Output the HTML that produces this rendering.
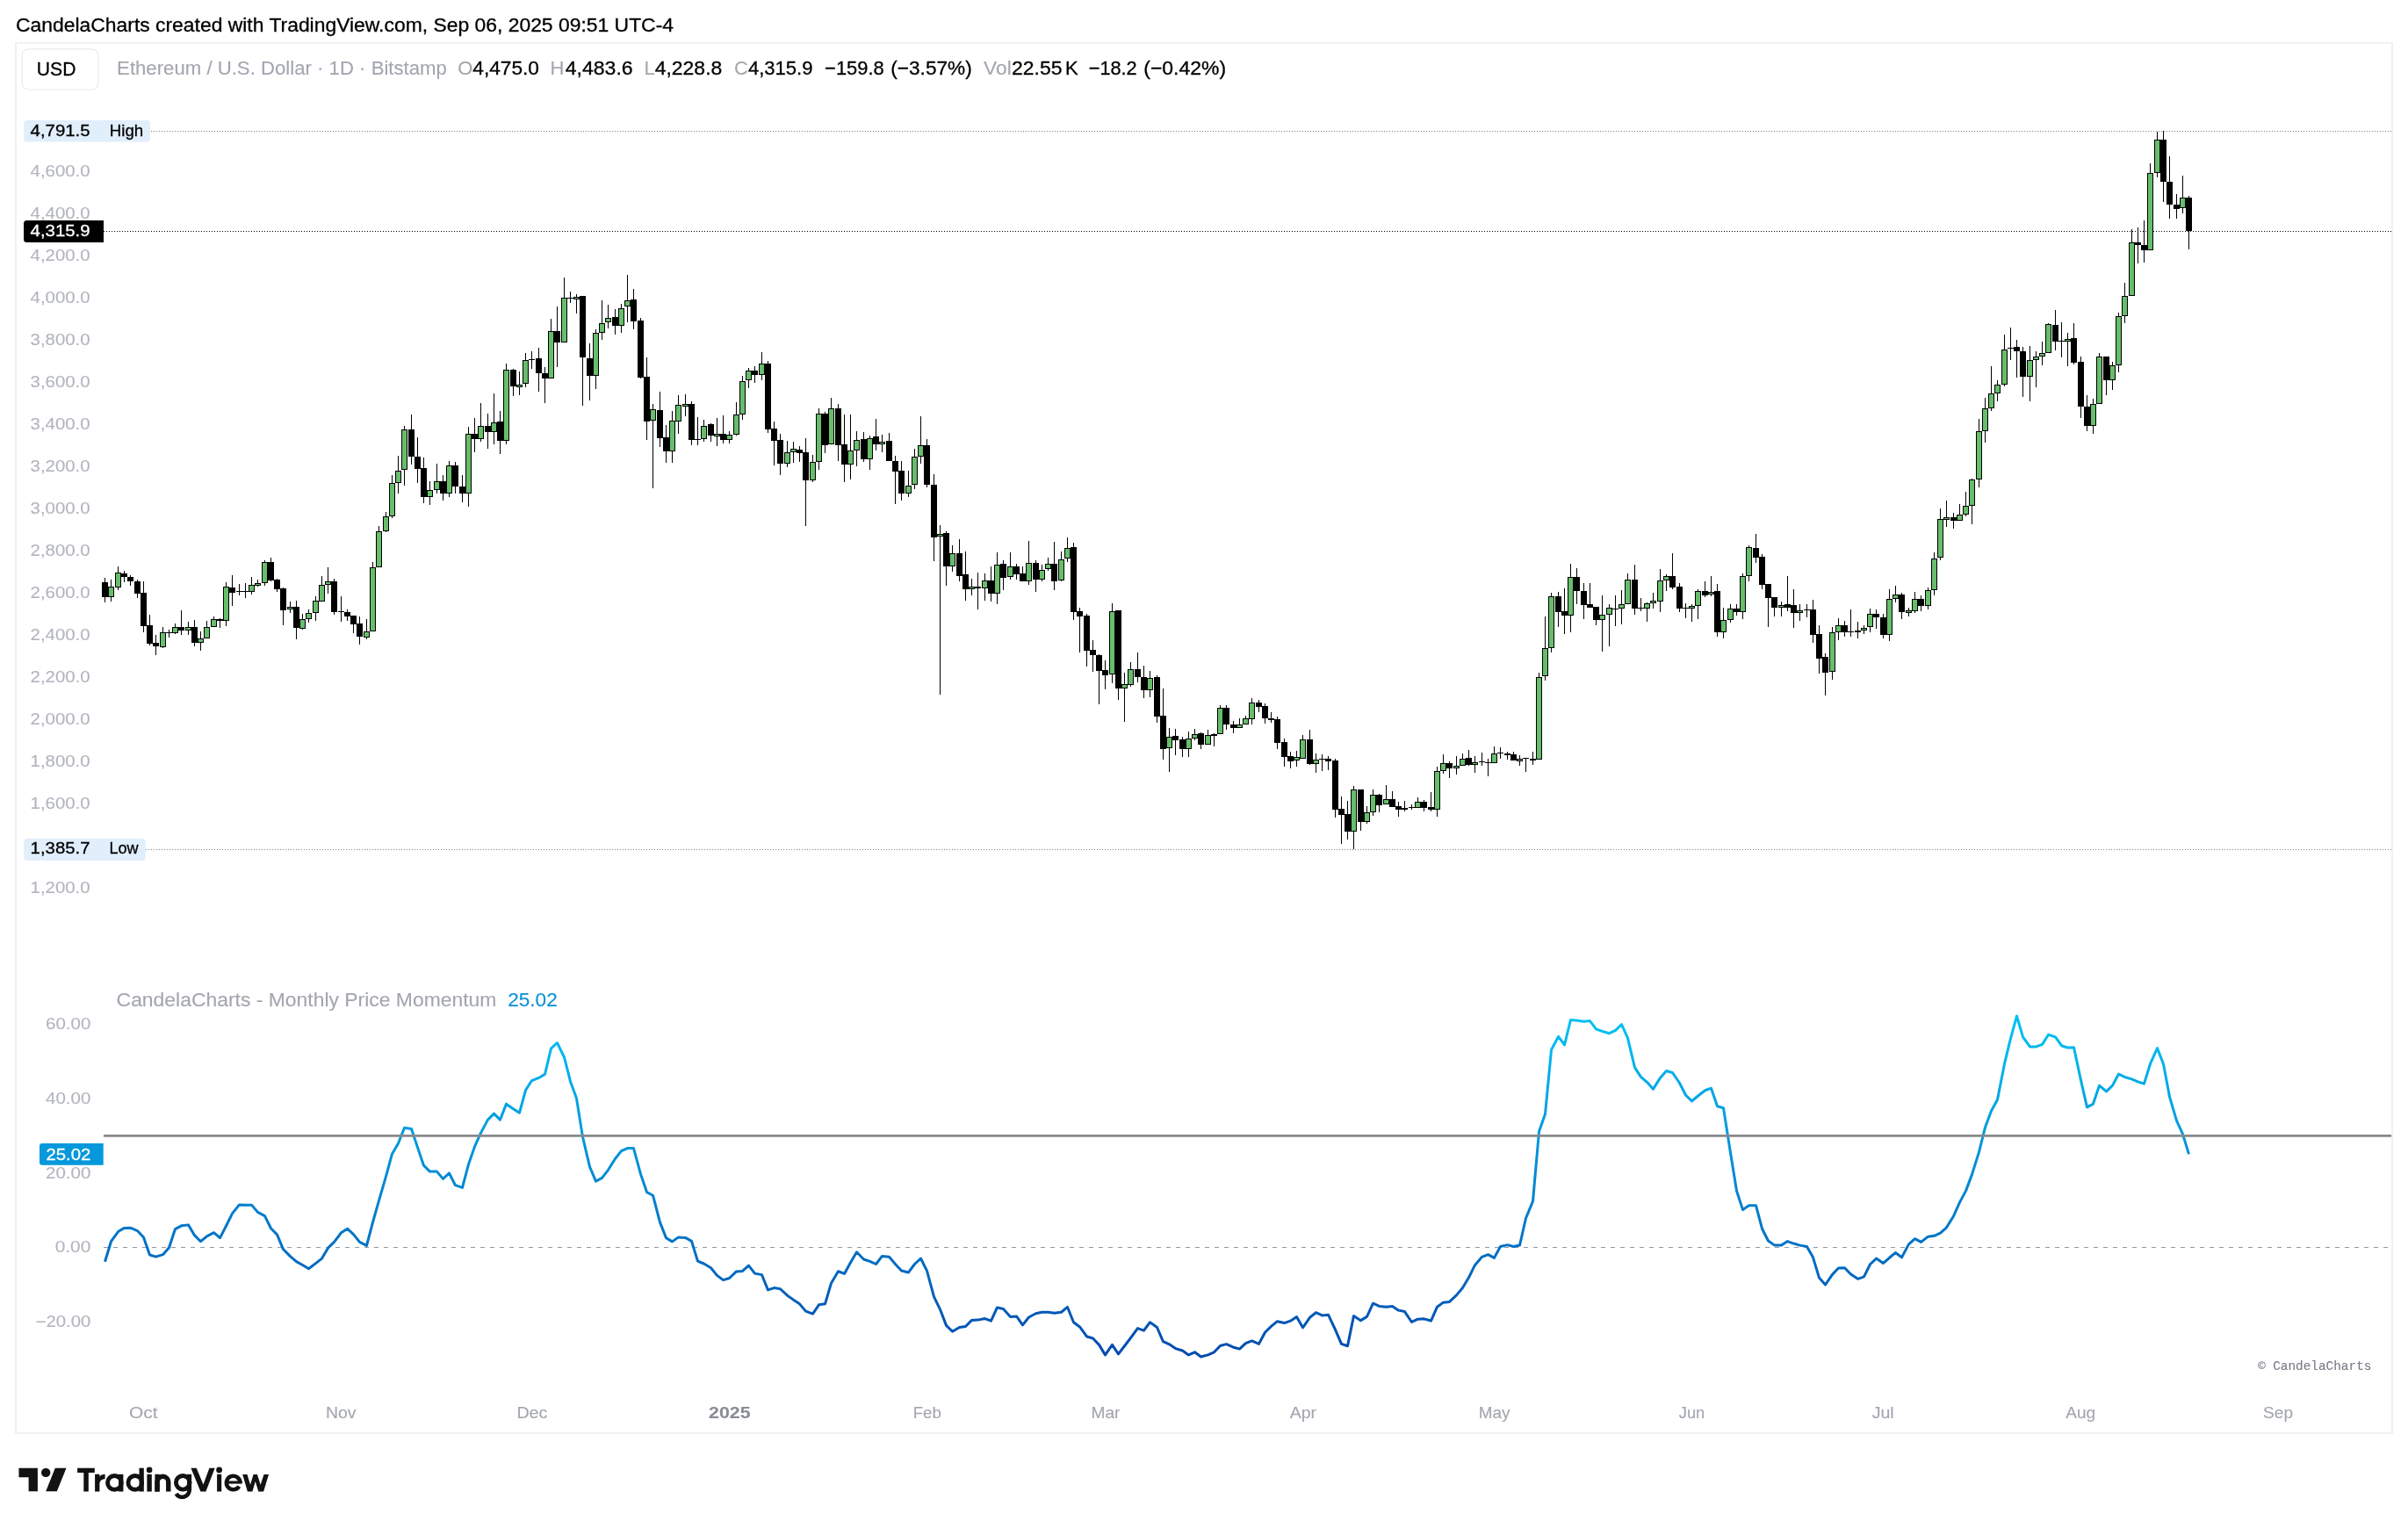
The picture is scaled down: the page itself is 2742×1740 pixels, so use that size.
<!DOCTYPE html>
<html><head><meta charset="utf-8"><title>ETH/USD chart</title><style>
html,body{margin:0;padding:0;background:#fff;}
body{width:2742px;height:1740px;overflow:hidden;position:relative;}
svg{position:absolute;left:0;top:0;display:block;will-change:transform;}
text{font-family:"Liberation Sans", sans-serif;}
</style></head><body>
<svg width="2742" height="1740" viewBox="0 0 2742 1740" xmlns="http://www.w3.org/2000/svg">
<text x="18.00" y="35.70" font-size="21.8" fill="#000" stroke="#000" stroke-width="0.3" textLength="749.00" lengthAdjust="spacingAndGlyphs">CandelaCharts created with TradingView.com, Sep 06, 2025 09:51 UTC-4</text>
<rect x="18" y="49" width="2706" height="1583" fill="none" stroke="#f1f1f2" stroke-width="2"/>
<rect x="25.1" y="55.9" width="86.9" height="46.1" rx="7.5" fill="#fff" stroke="#ebebed" stroke-width="1.2"/>
<text x="41.80" y="85.90" font-size="21.8" fill="#000" stroke="#000" stroke-width="0.3" textLength="44.60" lengthAdjust="spacingAndGlyphs">USD</text>
<text x="133.10" y="85.20" font-size="22.0" fill="#a3a6af" stroke="#a3a6af" stroke-width="0.12" textLength="375.80" lengthAdjust="spacingAndGlyphs">Ethereum / U.S. Dollar · 1D · Bitstamp</text>
<text x="521.30" y="85.20" font-size="22.0" fill="#a3a6af" stroke="#a3a6af" stroke-width="0.12">O</text>
<text x="538.30" y="85.20" font-size="22.0" fill="#000" stroke="#000" stroke-width="0.3" textLength="75.60" lengthAdjust="spacingAndGlyphs">4,475.0</text>
<text x="626.50" y="85.20" font-size="22.0" fill="#a3a6af" stroke="#a3a6af" stroke-width="0.12">H</text>
<text x="643.70" y="85.20" font-size="22.0" fill="#000" stroke="#000" stroke-width="0.3" textLength="77.00" lengthAdjust="spacingAndGlyphs">4,483.6</text>
<text x="733.50" y="85.20" font-size="22.0" fill="#a3a6af" stroke="#a3a6af" stroke-width="0.12">L</text>
<text x="745.70" y="85.20" font-size="22.0" fill="#000" stroke="#000" stroke-width="0.3" textLength="76.60" lengthAdjust="spacingAndGlyphs">4,228.8</text>
<text x="835.90" y="85.20" font-size="22.0" fill="#a3a6af" stroke="#a3a6af" stroke-width="0.12">C</text>
<text x="851.90" y="85.20" font-size="22.0" fill="#000" stroke="#000" stroke-width="0.3" textLength="73.60" lengthAdjust="spacingAndGlyphs">4,315.9</text>
<text x="939.10" y="85.20" font-size="22.0" fill="#000" stroke="#000" stroke-width="0.3" textLength="67.60" lengthAdjust="spacingAndGlyphs">−159.8</text>
<text x="1014.30" y="85.20" font-size="22.0" fill="#000" stroke="#000" stroke-width="0.3" textLength="92.40" lengthAdjust="spacingAndGlyphs">(−3.57%)</text>
<text x="1120.10" y="85.20" font-size="22.0" fill="#a3a6af" stroke="#a3a6af" stroke-width="0.12" textLength="31.60" lengthAdjust="spacingAndGlyphs">Vol</text>
<text x="1152.10" y="85.20" font-size="22.0" fill="#000" stroke="#000" stroke-width="0.3" textLength="57.40" lengthAdjust="spacingAndGlyphs">22.55</text>
<text x="1213.10" y="85.20" font-size="22.0" fill="#000" stroke="#000" stroke-width="0.3">K</text>
<text x="1239.70" y="85.20" font-size="22.0" fill="#000" stroke="#000" stroke-width="0.3" textLength="55.00" lengthAdjust="spacingAndGlyphs">−18.2</text>
<text x="1302.30" y="85.20" font-size="22.0" fill="#000" stroke="#000" stroke-width="0.3" textLength="93.80" lengthAdjust="spacingAndGlyphs">(−0.42%)</text>
<text x="34.60" y="200.57" font-size="18" fill="#b2b5be" stroke="#b2b5be" stroke-width="0.12" textLength="68.00" lengthAdjust="spacingAndGlyphs">4,600.0</text>
<text x="34.60" y="248.57" font-size="18" fill="#b2b5be" stroke="#b2b5be" stroke-width="0.12" textLength="68.00" lengthAdjust="spacingAndGlyphs">4,400.0</text>
<text x="34.60" y="296.58" font-size="18" fill="#b2b5be" stroke="#b2b5be" stroke-width="0.12" textLength="68.00" lengthAdjust="spacingAndGlyphs">4,200.0</text>
<text x="34.60" y="344.58" font-size="18" fill="#b2b5be" stroke="#b2b5be" stroke-width="0.12" textLength="68.00" lengthAdjust="spacingAndGlyphs">4,000.0</text>
<text x="34.60" y="392.59" font-size="18" fill="#b2b5be" stroke="#b2b5be" stroke-width="0.12" textLength="68.00" lengthAdjust="spacingAndGlyphs">3,800.0</text>
<text x="34.60" y="440.60" font-size="18" fill="#b2b5be" stroke="#b2b5be" stroke-width="0.12" textLength="68.00" lengthAdjust="spacingAndGlyphs">3,600.0</text>
<text x="34.60" y="488.60" font-size="18" fill="#b2b5be" stroke="#b2b5be" stroke-width="0.12" textLength="68.00" lengthAdjust="spacingAndGlyphs">3,400.0</text>
<text x="34.60" y="536.61" font-size="18" fill="#b2b5be" stroke="#b2b5be" stroke-width="0.12" textLength="68.00" lengthAdjust="spacingAndGlyphs">3,200.0</text>
<text x="34.60" y="584.61" font-size="18" fill="#b2b5be" stroke="#b2b5be" stroke-width="0.12" textLength="68.00" lengthAdjust="spacingAndGlyphs">3,000.0</text>
<text x="34.60" y="632.62" font-size="18" fill="#b2b5be" stroke="#b2b5be" stroke-width="0.12" textLength="68.00" lengthAdjust="spacingAndGlyphs">2,800.0</text>
<text x="34.60" y="680.63" font-size="18" fill="#b2b5be" stroke="#b2b5be" stroke-width="0.12" textLength="68.00" lengthAdjust="spacingAndGlyphs">2,600.0</text>
<text x="34.60" y="728.63" font-size="18" fill="#b2b5be" stroke="#b2b5be" stroke-width="0.12" textLength="68.00" lengthAdjust="spacingAndGlyphs">2,400.0</text>
<text x="34.60" y="776.64" font-size="18" fill="#b2b5be" stroke="#b2b5be" stroke-width="0.12" textLength="68.00" lengthAdjust="spacingAndGlyphs">2,200.0</text>
<text x="34.60" y="824.64" font-size="18" fill="#b2b5be" stroke="#b2b5be" stroke-width="0.12" textLength="68.00" lengthAdjust="spacingAndGlyphs">2,000.0</text>
<text x="34.60" y="872.65" font-size="18" fill="#b2b5be" stroke="#b2b5be" stroke-width="0.12" textLength="68.00" lengthAdjust="spacingAndGlyphs">1,800.0</text>
<text x="34.60" y="920.66" font-size="18" fill="#b2b5be" stroke="#b2b5be" stroke-width="0.12" textLength="68.00" lengthAdjust="spacingAndGlyphs">1,600.0</text>
<text x="34.60" y="1016.67" font-size="18" fill="#b2b5be" stroke="#b2b5be" stroke-width="0.12" textLength="68.00" lengthAdjust="spacingAndGlyphs">1,200.0</text>
<line x1="172" y1="149.5" x2="2723" y2="149.5" stroke="#808080" stroke-width="1" stroke-dasharray="1 2"/>
<line x1="166" y1="967.5" x2="2723" y2="967.5" stroke="#808080" stroke-width="1" stroke-dasharray="1 2"/>
<line x1="118" y1="263.5" x2="2723" y2="263.5" stroke="#000" stroke-width="1" stroke-dasharray="1 2"/>
<path d="M119.5 658V686M126.5 660V685M134.5 645V672M141.5 650V663M148.5 655V667M156.5 660V681M163.5 662V720M170.5 700V735M177.5 723V746M185.5 714V738M192.5 717V726M199.5 710V722M206.5 695V723M214.5 708V723M221.5 706V736M228.5 719V741M235.5 707V727M243.5 702V714M250.5 704V715M257.5 663V713M264.5 655V690M272.5 665V678M279.5 664V681M286.5 657V677M293.5 660V668M301.5 638V667M308.5 635V662M315.5 659V674M322.5 669V712M330.5 685V698M337.5 684V728M344.5 699V717M351.5 694V709M359.5 679V707M366.5 656V685M373.5 646V676M380.5 659V700M388.5 679V708M395.5 694V707M402.5 701V721M409.5 702V734M417.5 705V728M424.5 640V719M431.5 599V646M439.5 583V606M446.5 541V590M453.5 519V562M460.5 485V553M468.5 472V529M475.5 498V550M482.5 521V573M489.5 548V575M497.5 528V562M504.5 541V570M511.5 525V566M518.5 526V562M526.5 541V572M533.5 486V577M540.5 476V515M547.5 459V503M555.5 471V511M562.5 448V506M569.5 468V517M576.5 414V506M584.5 420V451M591.5 423V450M598.5 402V441M605.5 400V420M613.5 396V446M620.5 418V459M627.5 363V431M634.5 349V418M642.5 316V390M649.5 332V345M656.5 335V357M663.5 337V462M671.5 391V456M678.5 375V443M685.5 342V387M692.5 347V374M700.5 352V381M707.5 346V379M714.5 313V367M721.5 329V375M729.5 362V431M736.5 407V501M743.5 460V556M751.5 446V509M758.5 484V527M765.5 468V527M772.5 450V494M780.5 449V474M787.5 457V507M794.5 475V507M801.5 478V503M809.5 482V503M816.5 476V508M823.5 473V505M830.5 491V505M838.5 458V496M845.5 428V478M852.5 419V442M859.5 417V436M867.5 401V433M874.5 411V493M881.5 480V530M888.5 494V541M896.5 502V532M903.5 503V527M910.5 508V526M917.5 499V599M925.5 518V549M932.5 465V535M939.5 469V516M946.5 453V506M954.5 460V525M961.5 472V549M968.5 472V546M975.5 491V531M983.5 492V526M990.5 496V535M997.5 477V513M1004.5 495V515M1012.5 493V525M1019.5 519V574M1026.5 525V570M1034.5 536V566M1041.5 511V557M1048.5 474V528M1055.5 500V555M1063.5 540V639M1070.5 598V791M1077.5 605V667M1084.5 621V651M1092.5 614V662M1099.5 628V684M1106.5 659V678M1113.5 652V694M1121.5 653V684M1128.5 645V685M1135.5 629V688M1142.5 638V672M1150.5 629V660M1157.5 642V660M1164.5 645V662M1171.5 616V666M1179.5 638V674M1186.5 643V662M1193.5 635V650M1200.5 617V672M1208.5 628V662M1215.5 612V640M1222.5 618V706M1229.5 692V743M1237.5 699V759M1244.5 729V765M1251.5 745V802M1258.5 752V785M1266.5 687V778M1273.5 695V797M1280.5 766V822M1287.5 754V782M1295.5 743V777M1302.5 758V795M1309.5 764V794M1317.5 769V823M1324.5 784V865M1331.5 829V879M1338.5 830V860M1346.5 839V862M1353.5 833V862M1360.5 830V843M1367.5 834V853M1375.5 831V848M1382.5 835V850M1389.5 803V836M1396.5 803V831M1404.5 821V835M1411.5 818V829M1418.5 815V825M1425.5 795V825M1433.5 797V811M1440.5 801V824M1447.5 811V823M1454.5 816V853M1462.5 841V873M1469.5 856V875M1476.5 855V873M1483.5 837V864M1491.5 831V871M1498.5 858V880M1505.5 859V878M1512.5 861V877M1520.5 864V931M1527.5 907V961M1534.5 912V956M1541.5 895V967M1549.5 899V946M1556.5 918V938M1563.5 899V929M1570.5 904V925M1578.5 894V916M1585.5 901V919M1592.5 913V930M1599.5 912V924M1607.5 916V922M1614.5 908V920M1621.5 911V924M1629.5 902V924M1636.5 873V930M1643.5 859V881M1650.5 867V886M1658.5 861V882M1665.5 858V872M1672.5 854V872M1679.5 861V880M1687.5 857V872M1694.5 864V884M1701.5 850V869M1708.5 851V864M1716.5 856V865M1723.5 856V866M1730.5 860V872M1737.5 863V879M1745.5 856V871M1752.5 766V865M1759.5 702V775M1766.5 675V743M1774.5 674V714M1781.5 670V722M1788.5 642V720M1795.5 647V688M1803.5 664V705M1810.5 664V692M1817.5 691V712M1824.5 678V742M1832.5 688V736M1839.5 678V713M1846.5 672V711M1853.5 653V688M1861.5 643V700M1868.5 681V696M1875.5 686V708M1882.5 675V693M1890.5 648V697M1897.5 654V673M1904.5 630V671M1912.5 664V697M1919.5 687V704M1926.5 688V708M1933.5 671V705M1941.5 662V680M1948.5 656V679M1955.5 665V725M1962.5 692V727M1970.5 688V709M1977.5 688V701M1984.5 653V705M1991.5 621V662M1999.5 608V641M2006.5 631V671M2013.5 665V714M2020.5 680V702M2028.5 685V702M2035.5 656V696M2042.5 671V715M2049.5 688V707M2057.5 688V703M2064.5 683V732M2071.5 712V767M2078.5 744V792M2086.5 714V774M2093.5 704V729M2100.5 707V725M2107.5 694V725M2115.5 708V727M2122.5 712V722M2129.5 693V720M2136.5 694V716M2144.5 699V727M2151.5 671V730M2158.5 667V686M2165.5 675V705M2173.5 692V702M2180.5 674V698M2187.5 678V696M2195.5 669V694M2202.5 629V678M2209.5 579V638M2216.5 570V600M2224.5 584V602M2231.5 574V593M2238.5 560V588M2245.5 545V597M2253.5 477V555M2260.5 453V504M2267.5 417V468M2274.5 433V457M2282.5 381V440M2289.5 373V410M2296.5 387V430M2303.5 395V452M2311.5 394V457M2318.5 400V441M2325.5 389V416M2332.5 368V402M2340.5 353V399M2347.5 367V407M2354.5 379V417M2361.5 368V415M2369.5 406V476M2376.5 450V491M2383.5 454V494M2390.5 402V460M2398.5 406V450M2405.5 412V444M2412.5 356V424M2419.5 322V368M2427.5 261V337M2434.5 259V300M2441.5 251V299M2448.5 186V285M2456.5 150V202M2463.5 149V230M2470.5 178V249M2478.5 221V249M2485.5 200V243M2492.5 223V284" stroke="#000" stroke-width="1" fill="none"/>
<path d="M116 663h7V680h-7ZM123 668h7V680h-7ZM131 652h7V669h-7ZM138 653h7V657h-7ZM145 657h7V662h-7ZM153 662h7V676h-7ZM160 675h7V713h-7ZM167 712h7V733h-7ZM174 732h7V736h-7ZM182 720h7V737h-7ZM189 720h7V721h-7ZM196 714h7V721h-7ZM203 714h7V718h-7ZM211 714h7V718h-7ZM218 714h7V732h-7ZM225 727h7V732h-7ZM232 714h7V727h-7ZM240 705h7V714h-7ZM247 705h7V707h-7ZM254 668h7V707h-7ZM261 669h7V675h-7ZM269 673h7V674h-7ZM276 673h7V674h-7ZM283 666h7V674h-7ZM290 664h7V667h-7ZM298 640h7V664h-7ZM305 640h7V661h-7ZM312 660h7V671h-7ZM319 670h7V695h-7ZM327 691h7V694h-7ZM334 691h7V715h-7ZM341 705h7V716h-7ZM348 698h7V705h-7ZM356 684h7V698h-7ZM363 666h7V685h-7ZM370 662h7V666h-7ZM377 662h7V697h-7ZM385 696h7V697h-7ZM392 697h7V702h-7ZM399 701h7V711h-7ZM406 710h7V725h-7ZM414 719h7V726h-7ZM421 646h7V719h-7ZM428 605h7V646h-7ZM436 588h7V605h-7ZM443 550h7V588h-7ZM450 536h7V550h-7ZM457 489h7V535h-7ZM465 489h7V520h-7ZM472 520h7V534h-7ZM479 533h7V566h-7ZM486 558h7V566h-7ZM494 548h7V558h-7ZM501 548h7V562h-7ZM508 530h7V562h-7ZM515 530h7V554h-7ZM523 554h7V562h-7ZM530 494h7V562h-7ZM537 494h7V500h-7ZM544 485h7V500h-7ZM552 485h7V492h-7ZM559 481h7V492h-7ZM566 480h7V502h-7ZM573 421h7V502h-7ZM581 421h7V440h-7ZM588 438h7V441h-7ZM595 410h7V437h-7ZM602 409h7V410h-7ZM610 408h7V425h-7ZM617 425h7V431h-7ZM624 377h7V431h-7ZM631 377h7V390h-7ZM639 339h7V390h-7ZM646 339h7V340h-7ZM653 338h7V341h-7ZM660 337h7V407h-7ZM668 408h7V428h-7ZM675 379h7V428h-7ZM682 368h7V379h-7ZM689 362h7V367h-7ZM697 361h7V371h-7ZM704 351h7V371h-7ZM711 342h7V349h-7ZM718 341h7V366h-7ZM726 365h7V430h-7ZM733 429h7V480h-7ZM740 466h7V479h-7ZM748 467h7V499h-7ZM755 498h7V514h-7ZM762 479h7V514h-7ZM769 461h7V480h-7ZM777 460h7V463h-7ZM784 460h7V501h-7ZM791 500h7V501h-7ZM798 485h7V500h-7ZM806 483h7V496h-7ZM813 494h7V497h-7ZM820 494h7V501h-7ZM827 495h7V501h-7ZM835 472h7V495h-7ZM842 434h7V472h-7ZM849 422h7V433h-7ZM856 422h7V427h-7ZM864 414h7V427h-7ZM871 414h7V489h-7ZM878 488h7V502h-7ZM885 501h7V528h-7ZM893 515h7V528h-7ZM900 511h7V515h-7ZM907 512h7V516h-7ZM914 515h7V547h-7ZM922 526h7V547h-7ZM929 471h7V526h-7ZM936 471h7V507h-7ZM943 465h7V506h-7ZM951 465h7V507h-7ZM958 506h7V529h-7ZM965 513h7V529h-7ZM972 501h7V513h-7ZM980 500h7V523h-7ZM987 499h7V523h-7ZM994 497h7V506h-7ZM1001 503h7V506h-7ZM1009 502h7V525h-7ZM1016 525h7V537h-7ZM1023 536h7V562h-7ZM1031 553h7V562h-7ZM1038 520h7V552h-7ZM1045 507h7V520h-7ZM1052 507h7V552h-7ZM1060 552h7V612h-7ZM1067 608h7V611h-7ZM1074 607h7V645h-7ZM1081 630h7V645h-7ZM1089 630h7V656h-7ZM1096 654h7V671h-7ZM1103 668h7V671h-7ZM1110 668h7V670h-7ZM1118 661h7V670h-7ZM1125 661h7V676h-7ZM1132 643h7V676h-7ZM1139 642h7V658h-7ZM1147 645h7V657h-7ZM1154 645h7V654h-7ZM1161 653h7V662h-7ZM1168 641h7V662h-7ZM1176 641h7V660h-7ZM1183 649h7V660h-7ZM1190 642h7V648h-7ZM1197 642h7V662h-7ZM1205 637h7V661h-7ZM1212 624h7V636h-7ZM1219 623h7V697h-7ZM1226 696h7V702h-7ZM1234 701h7V741h-7ZM1241 740h7V746h-7ZM1248 746h7V764h-7ZM1255 763h7V769h-7ZM1263 696h7V768h-7ZM1270 695h7V784h-7ZM1277 779h7V784h-7ZM1284 762h7V780h-7ZM1292 762h7V771h-7ZM1299 771h7V786h-7ZM1306 772h7V786h-7ZM1314 771h7V816h-7ZM1321 815h7V853h-7ZM1328 839h7V852h-7ZM1335 838h7V843h-7ZM1343 842h7V853h-7ZM1350 841h7V853h-7ZM1357 836h7V841h-7ZM1364 835h7V848h-7ZM1372 837h7V848h-7ZM1379 836h7V838h-7ZM1386 806h7V836h-7ZM1393 806h7V825h-7ZM1401 825h7V829h-7ZM1408 825h7V829h-7ZM1415 818h7V825h-7ZM1422 800h7V819h-7ZM1430 800h7V805h-7ZM1437 804h7V818h-7ZM1444 818h7V820h-7ZM1451 819h7V846h-7ZM1459 845h7V862h-7ZM1466 861h7V867h-7ZM1473 862h7V866h-7ZM1480 842h7V864h-7ZM1488 842h7V870h-7ZM1495 865h7V870h-7ZM1502 864h7V865h-7ZM1509 864h7V867h-7ZM1517 866h7V922h-7ZM1524 921h7V928h-7ZM1531 927h7V947h-7ZM1538 899h7V947h-7ZM1546 899h7V936h-7ZM1553 925h7V936h-7ZM1560 905h7V925h-7ZM1567 905h7V917h-7ZM1575 910h7V916h-7ZM1582 910h7V919h-7ZM1589 918h7V922h-7ZM1596 920h7V922h-7ZM1604 919h7V920h-7ZM1611 913h7V920h-7ZM1618 913h7V920h-7ZM1626 919h7V922h-7ZM1633 878h7V922h-7ZM1640 869h7V878h-7ZM1647 869h7V875h-7ZM1655 872h7V875h-7ZM1662 864h7V872h-7ZM1669 863h7V871h-7ZM1676 868h7V871h-7ZM1684 867h7V868h-7ZM1691 868h7V869h-7ZM1698 858h7V869h-7ZM1705 857h7V858h-7ZM1713 858h7V860h-7ZM1720 859h7V866h-7ZM1727 864h7V867h-7ZM1734 863h7V864h-7ZM1742 864h7V866h-7ZM1749 771h7V865h-7ZM1756 738h7V770h-7ZM1763 679h7V738h-7ZM1771 679h7V697h-7ZM1778 696h7V701h-7ZM1785 657h7V701h-7ZM1792 657h7V673h-7ZM1800 673h7V689h-7ZM1807 688h7V692h-7ZM1814 691h7V706h-7ZM1821 700h7V706h-7ZM1829 692h7V700h-7ZM1836 693h7V694h-7ZM1843 688h7V693h-7ZM1850 660h7V688h-7ZM1858 660h7V693h-7ZM1865 692h7V693h-7ZM1872 687h7V693h-7ZM1879 684h7V687h-7ZM1887 661h7V685h-7ZM1894 656h7V661h-7ZM1901 656h7V669h-7ZM1909 668h7V693h-7ZM1916 692h7V693h-7ZM1923 690h7V693h-7ZM1930 673h7V690h-7ZM1938 673h7V678h-7ZM1945 674h7V677h-7ZM1952 673h7V720h-7ZM1959 706h7V720h-7ZM1967 693h7V706h-7ZM1974 693h7V697h-7ZM1981 656h7V697h-7ZM1988 623h7V656h-7ZM1996 624h7V635h-7ZM2003 634h7V666h-7ZM2010 665h7V681h-7ZM2017 680h7V692h-7ZM2025 689h7V692h-7ZM2032 688h7V692h-7ZM2039 689h7V698h-7ZM2046 695h7V698h-7ZM2054 694h7V695h-7ZM2061 694h7V723h-7ZM2068 722h7V750h-7ZM2075 748h7V766h-7ZM2083 720h7V765h-7ZM2090 712h7V720h-7ZM2097 712h7V720h-7ZM2104 719h7V720h-7ZM2112 718h7V720h-7ZM2119 715h7V718h-7ZM2126 699h7V714h-7ZM2133 699h7V703h-7ZM2141 703h7V723h-7ZM2148 682h7V723h-7ZM2155 677h7V682h-7ZM2162 677h7V697h-7ZM2170 695h7V698h-7ZM2177 682h7V696h-7ZM2184 682h7V690h-7ZM2192 672h7V690h-7ZM2199 636h7V672h-7ZM2206 591h7V635h-7ZM2213 589h7V592h-7ZM2221 589h7V593h-7ZM2228 586h7V593h-7ZM2235 576h7V586h-7ZM2242 546h7V576h-7ZM2250 491h7V546h-7ZM2257 465h7V491h-7ZM2264 448h7V465h-7ZM2271 438h7V448h-7ZM2279 398h7V438h-7ZM2286 396h7V397h-7ZM2293 395h7V400h-7ZM2300 400h7V429h-7ZM2308 410h7V429h-7ZM2315 406h7V410h-7ZM2322 402h7V406h-7ZM2329 369h7V402h-7ZM2337 370h7V389h-7ZM2344 388h7V389h-7ZM2351 386h7V389h-7ZM2358 385h7V413h-7ZM2366 412h7V463h-7ZM2373 463h7V485h-7ZM2380 460h7V485h-7ZM2387 406h7V460h-7ZM2395 406h7V433h-7ZM2402 416h7V433h-7ZM2409 360h7V416h-7ZM2416 337h7V360h-7ZM2424 276h7V337h-7ZM2431 276h7V279h-7ZM2438 279h7V285h-7ZM2445 197h7V285h-7ZM2453 159h7V197h-7ZM2460 159h7V207h-7ZM2467 207h7V233h-7ZM2475 233h7V238h-7ZM2482 225h7V237h-7ZM2489 225h7V263h-7Z" fill="#000"/>
<path d="M124 669h5V679h-5ZM132 653h5V668h-5ZM183 721h5V736h-5ZM197 715h5V720h-5ZM212 715h5V717h-5ZM226 728h5V731h-5ZM233 715h5V726h-5ZM241 706h5V713h-5ZM255 669h5V706h-5ZM284 667h5V673h-5ZM291 665h5V666h-5ZM299 641h5V663h-5ZM328 692h5V693h-5ZM342 706h5V715h-5ZM349 699h5V704h-5ZM357 685h5V697h-5ZM364 667h5V684h-5ZM371 663h5V665h-5ZM415 720h5V725h-5ZM422 647h5V718h-5ZM429 606h5V645h-5ZM437 589h5V604h-5ZM444 551h5V587h-5ZM451 537h5V549h-5ZM458 490h5V534h-5ZM487 559h5V565h-5ZM495 549h5V557h-5ZM509 531h5V561h-5ZM531 495h5V561h-5ZM545 486h5V499h-5ZM560 482h5V491h-5ZM574 422h5V501h-5ZM589 439h5V440h-5ZM596 411h5V436h-5ZM625 378h5V430h-5ZM640 340h5V389h-5ZM654 339h5V340h-5ZM676 380h5V427h-5ZM683 369h5V378h-5ZM690 363h5V366h-5ZM705 352h5V370h-5ZM712 343h5V348h-5ZM741 467h5V478h-5ZM763 480h5V513h-5ZM770 462h5V479h-5ZM778 461h5V462h-5ZM799 486h5V499h-5ZM814 495h5V496h-5ZM828 496h5V500h-5ZM836 473h5V494h-5ZM843 435h5V471h-5ZM850 423h5V432h-5ZM865 415h5V426h-5ZM894 516h5V527h-5ZM901 512h5V514h-5ZM923 527h5V546h-5ZM930 472h5V525h-5ZM944 466h5V505h-5ZM966 514h5V528h-5ZM973 502h5V512h-5ZM988 500h5V522h-5ZM1002 504h5V505h-5ZM1032 554h5V561h-5ZM1039 521h5V551h-5ZM1046 508h5V519h-5ZM1068 609h5V610h-5ZM1082 631h5V644h-5ZM1104 669h5V670h-5ZM1119 662h5V669h-5ZM1133 644h5V675h-5ZM1148 646h5V656h-5ZM1169 642h5V661h-5ZM1184 650h5V659h-5ZM1191 643h5V647h-5ZM1206 638h5V660h-5ZM1213 625h5V635h-5ZM1264 697h5V767h-5ZM1278 780h5V783h-5ZM1285 763h5V779h-5ZM1307 773h5V785h-5ZM1329 840h5V851h-5ZM1351 842h5V852h-5ZM1358 837h5V840h-5ZM1373 838h5V847h-5ZM1387 807h5V835h-5ZM1409 826h5V828h-5ZM1416 819h5V824h-5ZM1423 801h5V818h-5ZM1474 863h5V865h-5ZM1481 843h5V863h-5ZM1496 866h5V869h-5ZM1539 900h5V946h-5ZM1554 926h5V935h-5ZM1561 906h5V924h-5ZM1576 911h5V915h-5ZM1612 914h5V919h-5ZM1634 879h5V921h-5ZM1641 870h5V877h-5ZM1656 873h5V874h-5ZM1663 865h5V871h-5ZM1677 869h5V870h-5ZM1699 859h5V868h-5ZM1728 865h5V866h-5ZM1750 772h5V864h-5ZM1757 739h5V769h-5ZM1764 680h5V737h-5ZM1786 658h5V700h-5ZM1822 701h5V705h-5ZM1830 693h5V699h-5ZM1844 689h5V692h-5ZM1851 661h5V687h-5ZM1873 688h5V692h-5ZM1880 685h5V686h-5ZM1888 662h5V684h-5ZM1895 657h5V660h-5ZM1924 691h5V692h-5ZM1931 674h5V689h-5ZM1946 675h5V676h-5ZM1960 707h5V719h-5ZM1968 694h5V705h-5ZM1982 657h5V696h-5ZM1989 624h5V655h-5ZM2026 690h5V691h-5ZM2047 696h5V697h-5ZM2084 721h5V764h-5ZM2091 713h5V719h-5ZM2120 716h5V717h-5ZM2127 700h5V713h-5ZM2149 683h5V722h-5ZM2156 678h5V681h-5ZM2171 696h5V697h-5ZM2178 683h5V695h-5ZM2193 673h5V689h-5ZM2200 637h5V671h-5ZM2207 592h5V634h-5ZM2214 590h5V591h-5ZM2229 587h5V592h-5ZM2236 577h5V585h-5ZM2243 547h5V575h-5ZM2251 492h5V545h-5ZM2258 466h5V490h-5ZM2265 449h5V464h-5ZM2272 439h5V447h-5ZM2280 399h5V437h-5ZM2309 411h5V428h-5ZM2316 407h5V409h-5ZM2323 403h5V405h-5ZM2330 370h5V401h-5ZM2352 387h5V388h-5ZM2381 461h5V484h-5ZM2388 407h5V459h-5ZM2403 417h5V432h-5ZM2410 361h5V415h-5ZM2417 338h5V359h-5ZM2425 277h5V336h-5ZM2446 198h5V284h-5ZM2454 160h5V196h-5ZM2483 226h5V236h-5Z" fill="#67bd6b"/>
<rect x="27.2" y="137" width="143.8" height="24.6" rx="3.5" fill="#e1eefc"/>
<text x="34.60" y="154.90" font-size="18" fill="#000" stroke="#000" stroke-width="0.3" textLength="68.00" lengthAdjust="spacingAndGlyphs">4,791.5</text>
<text x="124.80" y="154.90" font-size="18" fill="#000" stroke="#000" stroke-width="0.3" textLength="38.40" lengthAdjust="spacingAndGlyphs">High</text>
<path d="M30.5 251h87.5v25h-87.5a3.5 3.5 0 0 1 -3.5 -3.5v-18a3.5 3.5 0 0 1 3.5 -3.5z" fill="#000"/>
<text x="34.60" y="269.20" font-size="18" fill="#fff" stroke="#fff" stroke-width="0.3" textLength="68.00" lengthAdjust="spacingAndGlyphs">4,315.9</text>
<rect x="27.2" y="955" width="138.6" height="25" rx="3.5" fill="#e1eefc"/>
<text x="34.60" y="972.40" font-size="18" fill="#000" stroke="#000" stroke-width="0.3" textLength="68.00" lengthAdjust="spacingAndGlyphs">1,385.7</text>
<text x="124.40" y="972.40" font-size="18" fill="#000" stroke="#000" stroke-width="0.3" textLength="33.20" lengthAdjust="spacingAndGlyphs">Low</text>
<text x="132.60" y="1146.00" font-size="21.2" fill="#a3a6af" stroke="#a3a6af" stroke-width="0.12" textLength="432.80" lengthAdjust="spacingAndGlyphs">CandelaCharts - Monthly Price Momentum</text>
<text x="578.20" y="1146.00" font-size="21.2" fill="#0b91d8" stroke="#0b91d8" stroke-width="0.12" textLength="56.60" lengthAdjust="spacingAndGlyphs">25.02</text>
<text x="103.30" y="1172.08" font-size="18" fill="#b2b5be" stroke="#b2b5be" stroke-width="0.12" text-anchor="end" textLength="51.20" lengthAdjust="spacingAndGlyphs">60.00</text>
<text x="103.30" y="1256.82" font-size="18" fill="#b2b5be" stroke="#b2b5be" stroke-width="0.12" text-anchor="end" textLength="51.20" lengthAdjust="spacingAndGlyphs">40.00</text>
<text x="103.30" y="1341.56" font-size="18" fill="#b2b5be" stroke="#b2b5be" stroke-width="0.12" text-anchor="end" textLength="51.20" lengthAdjust="spacingAndGlyphs">20.00</text>
<text x="103.30" y="1426.30" font-size="18" fill="#b2b5be" stroke="#b2b5be" stroke-width="0.12" text-anchor="end" textLength="40.60" lengthAdjust="spacingAndGlyphs">0.00</text>
<text x="103.30" y="1511.04" font-size="18" fill="#b2b5be" stroke="#b2b5be" stroke-width="0.12" text-anchor="end" textLength="62.60" lengthAdjust="spacingAndGlyphs">−20.00</text>
<defs><linearGradient id="mg" gradientUnits="userSpaceOnUse" x1="0" y1="1166.2" x2="0" y2="1547.5"><stop offset="0" stop-color="#00c0f3"/><stop offset="1" stop-color="#0049ae"/></linearGradient></defs>
<line x1="118" y1="1420.5" x2="2723" y2="1420.5" stroke="#9598a1" stroke-width="1" stroke-dasharray="5 6"/>
<polyline points="119.50,1436.69 126.50,1413.72 134.50,1402.53 141.50,1398.40 148.50,1398.17 156.50,1401.58 163.50,1409.01 170.50,1429.03 177.50,1431.15 185.50,1428.68 192.50,1420.79 199.50,1399.58 206.50,1395.81 214.50,1394.87 221.50,1406.65 228.50,1413.72 235.50,1407.83 243.50,1403.70 250.50,1409.59 257.50,1396.05 264.50,1381.91 272.50,1371.89 279.50,1372.13 286.50,1372.13 293.50,1380.38 301.50,1384.62 308.50,1398.76 315.50,1405.82 322.50,1422.55 330.50,1430.57 337.50,1436.69 344.50,1440.46 351.50,1444.70 359.50,1438.59 366.50,1433.09 373.50,1421.18 380.50,1414.40 388.50,1403.77 395.50,1399.19 402.50,1405.60 409.50,1414.40 417.50,1418.43 424.50,1391.85 431.50,1367.11 439.50,1339.62 446.50,1313.96 453.50,1302.05 460.50,1284.27 468.50,1285.55 475.50,1306.63 482.50,1327.16 489.50,1334.12 497.50,1334.12 504.50,1342.37 511.50,1335.95 518.50,1349.70 526.50,1352.45 533.50,1325.87 540.50,1305.71 547.50,1290.13 555.50,1275.10 562.50,1268.14 569.50,1275.10 576.50,1257.14 584.50,1262.64 591.50,1267.22 598.50,1241.56 605.50,1230.56 613.50,1227.45 620.50,1223.23 627.50,1193.91 634.50,1187.49 642.50,1203.99 649.50,1231.48 656.50,1250.73 663.50,1294.71 671.50,1328.62 678.50,1345.12 685.50,1341.45 692.50,1332.29 700.50,1319.46 707.50,1310.66 714.50,1307.54 721.50,1307.54 729.50,1336.87 736.50,1357.58 743.50,1361.25 751.50,1391.85 758.50,1409.63 765.50,1413.85 772.50,1408.90 780.50,1409.42 787.50,1413.35 794.50,1436.13 801.50,1439.01 809.50,1443.72 816.50,1452.36 823.50,1457.59 830.50,1455.50 838.50,1447.91 845.50,1447.38 852.50,1441.10 859.50,1450.10 867.50,1451.63 874.50,1468.95 881.50,1466.59 888.50,1467.77 896.50,1475.19 903.50,1480.14 910.50,1484.85 917.50,1493.10 925.50,1496.05 932.50,1485.80 939.50,1484.85 946.50,1461.29 954.50,1447.74 961.50,1450.45 968.50,1437.73 975.50,1425.71 983.50,1433.96 990.50,1436.31 997.50,1439.50 1004.50,1430.42 1012.50,1431.25 1019.50,1439.50 1026.50,1446.92 1034.50,1448.92 1041.50,1439.50 1048.50,1433.02 1055.50,1447.15 1063.50,1476.61 1070.50,1491.08 1077.50,1509.40 1084.50,1516.21 1092.50,1511.49 1099.50,1510.45 1106.50,1503.43 1113.50,1503.12 1121.50,1501.55 1128.50,1504.17 1135.50,1488.99 1142.50,1490.56 1150.50,1499.46 1157.50,1498.93 1164.50,1508.88 1171.50,1499.98 1179.50,1495.79 1186.50,1494.22 1193.50,1494.22 1200.50,1495.27 1208.50,1494.22 1215.50,1488.46 1222.50,1505.74 1229.50,1510.97 1237.50,1521.96 1244.50,1524.06 1251.50,1531.39 1258.50,1542.90 1266.50,1531.39 1273.50,1541.86 1280.50,1532.75 1287.50,1523.53 1295.50,1512.54 1302.50,1515.16 1309.50,1505.74 1317.50,1511.49 1324.50,1527.72 1331.50,1530.86 1338.50,1535.57 1346.50,1537.98 1353.50,1542.90 1360.50,1539.76 1367.50,1545.00 1375.50,1542.90 1382.50,1539.76 1389.50,1532.43 1396.50,1530.65 1404.50,1534.21 1411.50,1536.10 1418.50,1529.61 1425.50,1526.88 1433.50,1530.34 1440.50,1517.25 1447.50,1510.45 1454.50,1504.69 1462.50,1506.57 1469.50,1504.17 1476.50,1499.46 1483.50,1511.81 1491.50,1500.29 1498.50,1494.74 1505.50,1497.89 1512.50,1497.15 1520.50,1514.11 1527.50,1530.34 1534.50,1532.75 1541.50,1498.41 1549.50,1503.64 1556.50,1499.35 1563.50,1484.23 1570.50,1487.47 1578.50,1488.19 1585.50,1487.47 1592.50,1492.15 1599.50,1493.59 1607.50,1505.47 1614.50,1502.23 1621.50,1501.87 1629.50,1504.03 1636.50,1488.19 1643.50,1483.15 1650.50,1482.43 1658.50,1474.87 1665.50,1466.59 1672.50,1454.72 1679.50,1440.68 1687.50,1431.32 1694.50,1428.65 1701.50,1432.40 1708.50,1419.44 1716.50,1417.65 1723.50,1419.55 1730.50,1418.03 1737.50,1387.28 1745.50,1367.92 1752.50,1288.57 1759.50,1268.64 1766.50,1195.56 1774.50,1180.37 1781.50,1189.86 1788.50,1161.39 1795.50,1162.00 1803.50,1163.17 1810.50,1162.58 1817.50,1171.81 1824.50,1174.37 1832.50,1176.72 1839.50,1173.39 1846.50,1166.51 1853.50,1182.22 1861.50,1215.61 1868.50,1226.41 1875.50,1232.30 1882.50,1240.16 1890.50,1227.39 1897.50,1219.54 1904.50,1221.50 1912.50,1233.28 1919.50,1247.03 1926.50,1253.90 1933.50,1248.01 1941.50,1241.73 1948.50,1239.18 1955.50,1259.80 1962.50,1261.76 1970.50,1312.82 1977.50,1356.03 1984.50,1377.63 1991.50,1372.72 1999.50,1372.72 2006.50,1399.23 2013.50,1412.98 2020.50,1417.89 2028.50,1417.89 2035.50,1413.57 2042.50,1416.06 2049.50,1418.14 2057.50,1419.39 2064.50,1431.84 2071.50,1455.10 2078.50,1462.99 2086.50,1451.36 2093.50,1444.05 2100.50,1443.72 2107.50,1450.95 2115.50,1456.35 2122.50,1453.85 2129.50,1439.73 2136.50,1433.09 2144.50,1438.49 2151.50,1432.26 2158.50,1426.45 2165.50,1431.84 2173.50,1416.89 2180.50,1410.66 2187.50,1414.40 2195.50,1408.17 2202.50,1407.34 2209.50,1404.02 2216.50,1397.79 2224.50,1384.92 2231.50,1369.14 2238.50,1356.10 2245.50,1337.38 2253.50,1311.86 2260.50,1283.78 2267.50,1265.06 2274.50,1252.30 2282.50,1211.47 2289.50,1182.54 2296.50,1157.02 2303.50,1180.84 2311.50,1191.90 2318.50,1191.90 2325.50,1189.34 2332.50,1178.28 2340.50,1180.84 2347.50,1190.71 2354.50,1193.09 2361.50,1192.75 2369.50,1230.18 2376.50,1260.81 2383.50,1257.07 2390.50,1236.14 2398.50,1242.94 2405.50,1236.14 2412.50,1223.04 2419.50,1226.44 2427.50,1228.82 2434.50,1231.88 2441.50,1234.10 2448.50,1211.47 2456.50,1193.60 2463.50,1211.81 2470.50,1248.90 2478.50,1276.12 2485.50,1291.44 2492.50,1314.41" fill="none" stroke="url(#mg)" stroke-width="3" stroke-linejoin="round" stroke-linecap="butt"/>
<line x1="118" y1="1293.29" x2="2723" y2="1293.29" stroke="#88898d" stroke-width="2.7"/>
<path d="M48 1302h69.7v24.7h-69.7a3 3 0 0 1 -3 -3v-18.7a3 3 0 0 1 3 -3z" fill="#0598dc"/>
<text x="52.40" y="1321.00" font-size="18" fill="#fff" stroke="#fff" stroke-width="0.3" textLength="51.00" lengthAdjust="spacingAndGlyphs">25.02</text>
<text x="2588.20" y="1560.20" font-size="14.4" fill="#787b86" stroke="#787b86" stroke-width="0.12" textLength="112.20" lengthAdjust="spacingAndGlyphs" style='font-family:"Liberation Mono", monospace'>CandelaCharts</text>
<g fill="none" stroke="#787b86" stroke-width="0.95"><circle cx="2575.5" cy="1554.6" r="4.0"/><path d="M2577.06 1553.04A2.2 2.2 0 1 0 2577.06 1556.16"/></g>
<text x="163.27" y="1614.80" font-size="18" fill="#a3a6af" stroke="#a3a6af" stroke-width="0.12" text-anchor="middle" textLength="32.50" lengthAdjust="spacingAndGlyphs">Oct</text>
<text x="388.21" y="1614.80" font-size="18" fill="#a3a6af" stroke="#a3a6af" stroke-width="0.12" text-anchor="middle" textLength="34.60" lengthAdjust="spacingAndGlyphs">Nov</text>
<text x="605.90" y="1614.80" font-size="18" fill="#a3a6af" stroke="#a3a6af" stroke-width="0.12" text-anchor="middle" textLength="35.00" lengthAdjust="spacingAndGlyphs">Dec</text>
<text x="830.84" y="1614.80" font-size="18" fill="#8a8d97" stroke="#8a8d97" stroke-width="0.12" text-anchor="middle" textLength="47.50" lengthAdjust="spacingAndGlyphs" font-weight="bold">2025</text>
<text x="1055.78" y="1614.80" font-size="18" fill="#a3a6af" stroke="#a3a6af" stroke-width="0.12" text-anchor="middle" textLength="32.00" lengthAdjust="spacingAndGlyphs">Feb</text>
<text x="1258.96" y="1614.80" font-size="18" fill="#a3a6af" stroke="#a3a6af" stroke-width="0.12" text-anchor="middle" textLength="33.00" lengthAdjust="spacingAndGlyphs">Mar</text>
<text x="1483.90" y="1614.80" font-size="18" fill="#a3a6af" stroke="#a3a6af" stroke-width="0.12" text-anchor="middle" textLength="30.50" lengthAdjust="spacingAndGlyphs">Apr</text>
<text x="1701.59" y="1614.80" font-size="18" fill="#a3a6af" stroke="#a3a6af" stroke-width="0.12" text-anchor="middle" textLength="35.80" lengthAdjust="spacingAndGlyphs">May</text>
<text x="1926.53" y="1614.80" font-size="18" fill="#a3a6af" stroke="#a3a6af" stroke-width="0.12" text-anchor="middle" textLength="29.50" lengthAdjust="spacingAndGlyphs">Jun</text>
<text x="2144.21" y="1614.80" font-size="18" fill="#a3a6af" stroke="#a3a6af" stroke-width="0.12" text-anchor="middle" textLength="25.00" lengthAdjust="spacingAndGlyphs">Jul</text>
<text x="2369.16" y="1614.80" font-size="18" fill="#a3a6af" stroke="#a3a6af" stroke-width="0.12" text-anchor="middle" textLength="34.00" lengthAdjust="spacingAndGlyphs">Aug</text>
<text x="2594.10" y="1614.80" font-size="18" fill="#a3a6af" stroke="#a3a6af" stroke-width="0.12" text-anchor="middle" textLength="34.00" lengthAdjust="spacingAndGlyphs">Sep</text>
<g fill="#131313"><path d="M21.45 1671.8H42.9V1698.2H32.6V1682.3H21.45Z"/><circle cx="52.2" cy="1676.9" r="5.2"/><path d="M62.8 1671.8H75.5L64.8 1698.2H52.2Z"/></g>
<g fill="#121212"><path d="M88.1 1671.7H107.8V1676.9H100.8V1698.5H95.3V1676.9H88.1Z"/><path d="M108.1 1678.8H113.4V1681.6C114.6 1679.8 116.6 1678.8 119.6 1678.8V1684.2C115.6 1684.2 113.4 1686.4 113.4 1690.5V1698.5H108.1Z"/><circle cx="130.4" cy="1688.4" r="7.85" fill="none" stroke="#121212" stroke-width="4.9"/><rect x="135.1" y="1678.8" width="5.3" height="19.7"/><circle cx="153.8" cy="1688.4" r="7.85" fill="none" stroke="#121212" stroke-width="4.9"/><rect x="158.5" y="1671.7" width="5.3" height="26.8"/><rect x="167.4" y="1678.8" width="5.4" height="19.7"/><circle cx="170.1" cy="1673.9" r="3.3"/><rect x="176.4" y="1678.8" width="5.3" height="19.7"/><path d="M179.05 1698.5V1687.6A6.35 6.35 0 0 1 191.75 1687.6V1698.5" fill="none" stroke="#121212" stroke-width="5.4"/><circle cx="208.2" cy="1688.3" r="7.8" fill="none" stroke="#121212" stroke-width="4.9"/><rect x="213.1" y="1678.8" width="5.0" height="19"/><path d="M215.6 1696.6A8.1 8.1 0 0 1 200.6 1700.9" fill="none" stroke="#121212" stroke-width="4.7"/><path d="M217.4 1671.7H223.7L231.5 1690.6L238.4 1671.7H244.7L234.4 1698.5H228.4Z"/><rect x="247.1" y="1678.8" width="5.1" height="19.7"/><circle cx="249.6" cy="1673.9" r="3.4"/><path d="M272.22 1692.61A7.75 7.75 0 1 1 273.4 1688.5" fill="none" stroke="#121212" stroke-width="4.6"/><rect x="259.5" y="1686.5" width="16.2" height="3.1"/><path d="M276.2 1678.9H281.5L285.0 1690.8L288.6 1678.9H292.9L296.7 1690.8L300.5 1678.9H306.0L300.1 1698.5H294.3L290.8 1687.0L287.4 1698.5H281.9Z"/></g>
</svg>
</body></html>
